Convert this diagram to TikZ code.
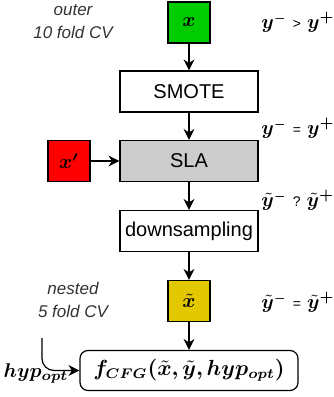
\documentclass[tikz,border=0pt]{standalone}
\usepackage{bm}
\usepackage{fontspec}
\setmainfont{Liberation Sans}
\usetikzlibrary{arrows.meta}
\definecolor{verde}{HTML}{00CC00}
\definecolor{rosso}{HTML}{FF0000}
\definecolor{giallo}{HTML}{E3C800}
\definecolor{grigio}{HTML}{CCCCCC}
\tikzset{
  blocco/.style={draw, line width=0.6pt, minimum width=69pt, minimum height=20.5pt, inner sep=0pt},
  quadrato/.style={draw, line width=0.6pt, minimum width=21pt, minimum height=20.5pt, inner sep=0pt},
  freccia/.style={line width=0.6pt, -{Stealth[length=5.5pt,width=5.5pt]}},
  nota/.style={font=\fontsize{8.5}{11.5}\selectfont\itshape, text=black!80, align=center},
  cond/.style={anchor=west, inner sep=0pt}
}
\newcommand{\rel}[1]{\mbox{\fontsize{7}{8}\selectfont\hspace{3pt}#1\hspace{3pt}}}
\newcommand{\meno}{^{\scriptscriptstyle\bm{-}}}
\newcommand{\piu}{^{\bm{+}}}
\begin{document}
\begin{tikzpicture}[x=0.5pt, y=-0.5pt]
        \useasboundingbox (0,0) rectangle (333,397);
        % blocchi principali
        \node[quadrato, fill=verde] (x) at (189,22.5) {$\bm{x}$};
        \node[blocco] (smote) at (189,91.5) {SMOTE};
        \node[blocco, fill=grigio] (sla) at (189,161) {SLA};
        \node[quadrato, fill=rosso] (xp) at (69,161) {$\bm{x'}$};
        \node[blocco] (down) at (189,231) {downsampling};
        \node[quadrato, fill=giallo] (xt) at (189,301) {$\bm{\tilde{x}}$};
        \node[draw, line width=0.6pt, rounded corners=4pt, minimum width=109pt, minimum height=20pt, inner sep=0pt] (f) at (189,370.5)
            {\fontsize{10.7}{13}\selectfont$\bm{f_{CFG}(\tilde{x},\tilde{y},hyp_{opt})}$};
        % note a sinistra
        \node[nota] (outer) at (73,21.5) {outer\\10 fold CV};
        \node[nota] (nested) at (73,300) {nested\\5 fold CV};
        % condizioni a destra
        \node[cond] (c1) at (261,22) {$\bm{y}\meno\rel{>}\bm{y}\piu$};
        \node[cond] (c2) at (261,128) {$\bm{y}\meno\rel{=}\bm{y}\piu$};
        \node[cond] (c3) at (261,200) {$\bm{\tilde{y}}\meno\rel{?}\bm{\tilde{y}}\piu$};
        \node[cond] (c4) at (261,302) {$\bm{\tilde{y}}\meno\rel{=}\bm{\tilde{y}}\piu$};
        % frecce
        \draw[freccia] (x) -- (smote);
        \draw[freccia] (smote) -- (sla);
        \draw[freccia] (xp) -- (sla);
        \draw[freccia] (sla) -- (down);
        \draw[freccia] (down) -- (xt);
        \draw[freccia] (xt) -- (f);
        % iperparametri
        \coordinate (hs) at (42,338);
        \draw[freccia, rounded corners=6pt] (hs) |- (f.west);
        \node (hyp) at (36,373) {$\bm{hyp_{opt}}$};
    \end{tikzpicture}
\end{document}
